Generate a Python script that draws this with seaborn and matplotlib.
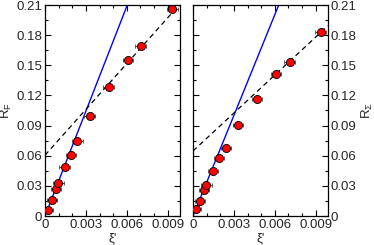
import matplotlib
matplotlib.use("Agg")
import matplotlib.pyplot as plt
import seaborn as sns
import numpy as np
import pandas as pd
from matplotlib.ticker import MultipleLocator, FuncFormatter

sns.set_theme(style="ticks")
plt.rcParams['font.family'] = ['Liberation Sans', 'DejaVu Sans']
plt.rcParams['mathtext.default'] = 'regular'

# ---- data ----
xi_F = [0.00020, 0.00049, 0.00079, 0.00098, 0.00143, 0.00190, 0.00238,
        0.00327, 0.00466, 0.00607, 0.00701, 0.00934]
R_F = [0.0057, 0.0159, 0.0265, 0.0331, 0.0490, 0.0610, 0.0746,
       0.0992, 0.1287, 0.1550, 0.1695, 0.2057]
xi_S = [0.00024, 0.00051, 0.00081, 0.00099, 0.00148, 0.00192, 0.00241,
        0.00332, 0.00469, 0.00610, 0.00708, 0.00936]
R_S = [0.0067, 0.0149, 0.0255, 0.0305, 0.0448, 0.0574, 0.0680,
       0.0908, 0.1167, 0.1416, 0.1535, 0.1830]
xerr = 0.00038

# linear fits: (slope, intercept)
blue_F = (34.8, 0.0)
dash_F = (15.2, 0.0605)
blue_S = (33.4, 0.0)
dash_S = (12.6, 0.0647)

x_ticks = [0, 0.003, 0.006, 0.009]
y_ticks = [0, 0.03, 0.06, 0.09, 0.12, 0.15, 0.18, 0.21]
xmax = 0.0099
ymax = 0.21

fig = plt.figure(figsize=(3.74, 2.45), dpi=100)
axL = fig.add_axes([45/374, 29/245, 135/374, 211/245])
axR = fig.add_axes([193/374, 29/245, 135/374, 211/245])

def fmtx(v, pos):
    if abs(v) < 1e-12:
        return "0"
    return f"{v:.3f}"

def fmty(v, pos):
    if abs(v) < 1e-12:
        return "0"
    return f"{v:.2f}"

def draw(ax, xs, ys, blue, dash):
    xl = np.array([0, xmax])
    ax.plot(xl, blue[0]*xl + blue[1], color='#0000ff', lw=1.0, zorder=2)
    ax.plot(xl, dash[0]*xl + dash[1], color='black', lw=0.9, ls=(0, (4, 3)), zorder=2)
    ax.errorbar(xs, ys, xerr=xerr, fmt='none', ecolor='#444444', elinewidth=0.8,
                capsize=1.5, capthick=0.6, zorder=3)
    df = pd.DataFrame({'x': xs, 'y': ys})
    sns.scatterplot(data=df, x='x', y='y', ax=ax, color='#ff0000', edgecolor='black',
                    linewidth=0.6, s=34, zorder=4)
    ax.set_xlim(0, xmax)
    ax.set_ylim(0, ymax)
    ax.set_xticks(x_ticks)
    ax.set_yticks(y_ticks)
    ax.xaxis.set_minor_locator(MultipleLocator(0.001))
    ax.yaxis.set_minor_locator(MultipleLocator(0.015))
    ax.xaxis.set_major_formatter(FuncFormatter(fmtx))
    ax.yaxis.set_major_formatter(FuncFormatter(fmty))
    ax.tick_params(which='both', direction='in', top=True, right=True, left=True, bottom=True,
                   labelsize=9.5, pad=2, color='black', width=0.8)
    ax.tick_params(which='major', length=4)
    ax.tick_params(which='minor', length=2)
    for s in ax.spines.values():
        s.set_color('black')
        s.set_linewidth(0.9)
    ax.set_xlabel("ξ'", fontsize=9.5, labelpad=1)

draw(axL, xi_F, R_F, blue_F, dash_F)
draw(axR, xi_S, R_S, blue_S, dash_S)

axL.set_ylabel("R$_F$", fontsize=9.5, labelpad=2)
axR.yaxis.set_label_position('right')
axR.tick_params(labelleft=False, labelright=True)
axR.set_ylabel("R$_\\Sigma$", fontsize=9.5, labelpad=2)

fig.savefig("out.png", dpi=100)
